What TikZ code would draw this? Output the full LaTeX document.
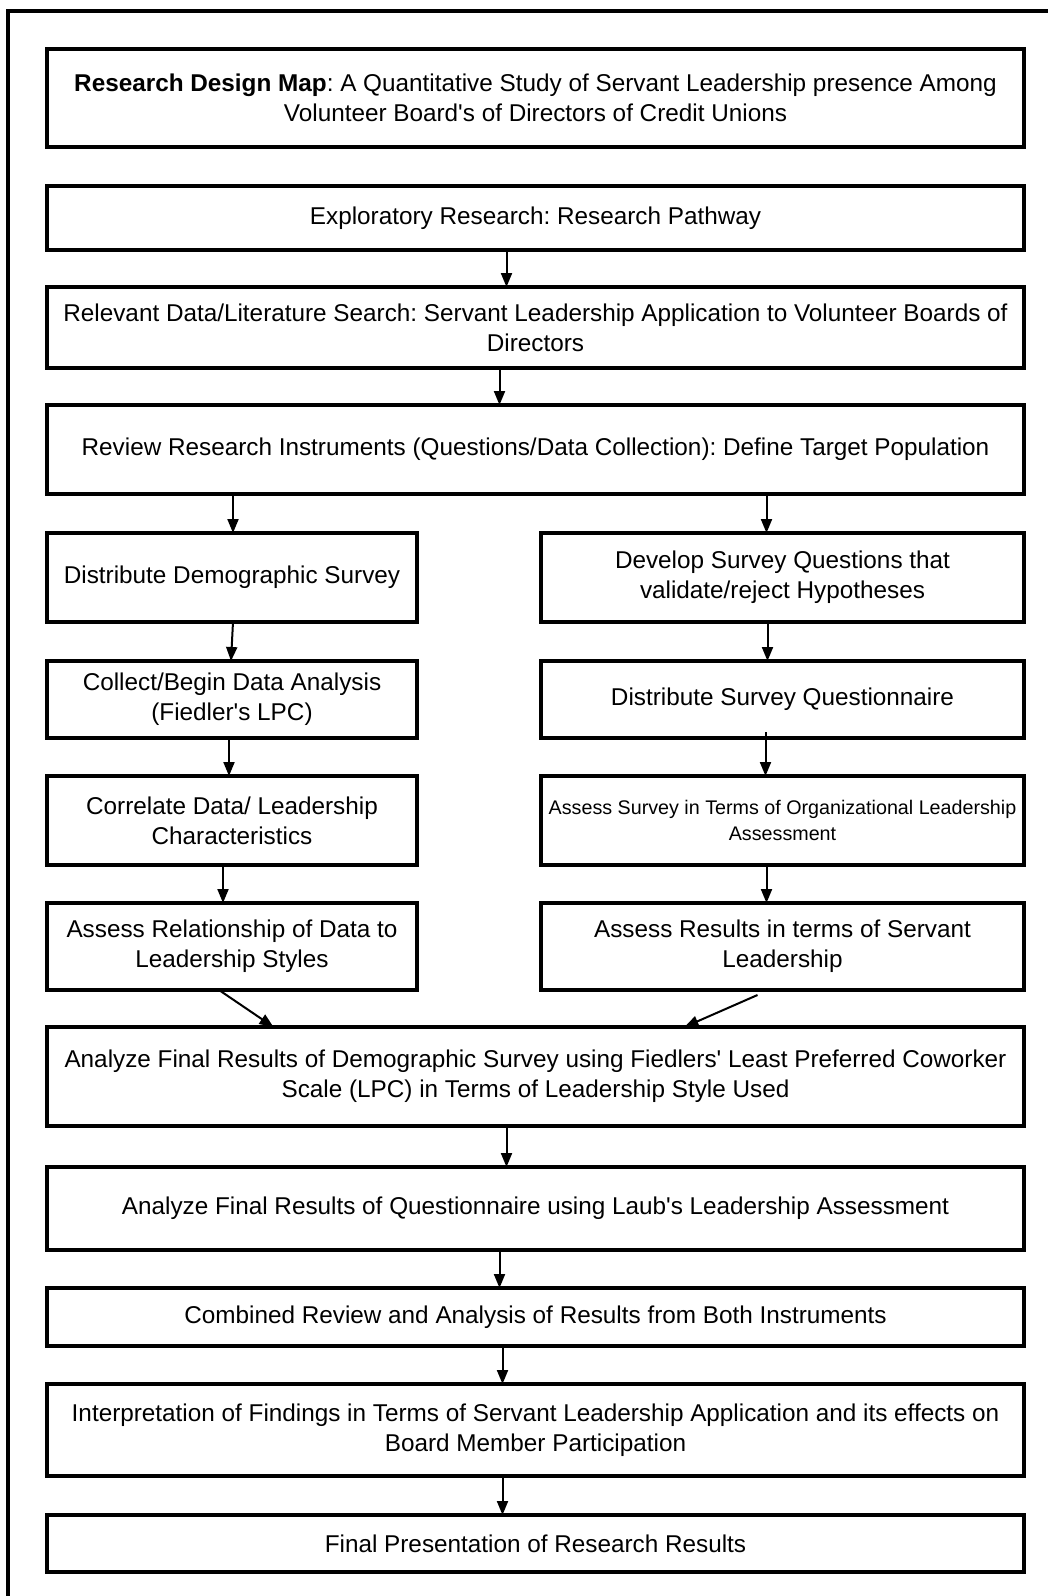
\documentclass[tikz,border=0pt]{standalone}
\usepackage{fontspec}
\newfontfamily\flowfont{Liberation Sans}
\usetikzlibrary{positioning,arrows.meta}
\frenchspacing

\begin{document}
\begin{tikzpicture}[x=1pt, y=1pt,
  every node/.style={draw, line width=4pt, outer sep=0pt, inner sep=6pt, align=center,
    font=\flowfont\fontsize{24.3}{30}\selectfont},
  wide/.style={minimum width=977pt},
  half/.style={minimum width=370pt},
  halfr/.style={minimum width=483pt},
  flow/.style={draw, line width=2pt, -{Triangle[width=11pt,length=14pt]}}]
  \useasboundingbox (0,0) rectangle (1048,-1596);
  \draw[line width=4pt] (8,-1600) -- (8,-11) -- (1052,-11);
  % main column
  \node[wide, minimum height=98pt, anchor=north west] (title) at (47,-49)
    {\textbf{Research Design Map}: A Quantitative Study of Servant Leadership presence Among\\ Volunteer Board's of Directors of Credit Unions};
  \node[wide, minimum height=64pt, below=39pt of title] (explore) {Exploratory Research: Research Pathway};
  \node[wide, minimum height=81pt, below=37pt of explore] (search)
    {Relevant Data/Literature Search: Servant Leadership Application to Volunteer Boards of\\ Directors};
  \node[wide, minimum height=89pt, below=37pt of search] (review)
    {Review Research Instruments (Questions/Data Collection): Define Target Population};
  % left branch
  \node[half, minimum height=89pt, below=39pt of review.south west, anchor=north west] (demo) {Distribute Demographic Survey};
  \node[half, minimum height=77pt, below=39pt of demo] (collect) {Collect/Begin Data Analysis\\ (Fiedler's LPC)};
  \node[half, minimum height=89pt, below=38pt of collect] (correl) {Correlate Data/ Leadership\\ Characteristics};
  \node[half, minimum height=87pt, below=38pt of correl] (relat) {Assess Relationship of Data to\\ Leadership Styles};
  % right branch
  \node[halfr, minimum height=89pt, below=39pt of review.south east, anchor=north east] (develop)
    {Develop Survey Questions that\\ validate/reject Hypotheses};
  \node[halfr, minimum height=77pt, below=39pt of develop] (quest) {Distribute Survey Questionnaire};
  \node[halfr, minimum height=89pt, below=38pt of quest, font=\flowfont\fontsize{19.7}{26.5}\selectfont] (orgassess)
    {Assess Survey in Terms of Organizational Leadership\\ Assessment};
  \node[halfr, minimum height=87pt, below=38pt of orgassess] (servres) {Assess Results in terms of Servant\\ Leadership};
  % merged column
  \node[wide, minimum height=99pt, below=37pt of relat.south west, anchor=north west] (lpcres)
    {Analyze Final Results of Demographic Survey using Fiedlers' Least Preferred Coworker\\ Scale (LPC) in Terms of Leadership Style Used};
  \node[wide, minimum height=83pt, below=41pt of lpcres] (laubres)
    {Analyze Final Results of Questionnaire using Laub's Leadership Assessment};
  \node[wide, minimum height=58pt, below=38pt of laubres] (combined)
    {Combined Review and Analysis of Results from Both Instruments};
  \node[wide, minimum height=92pt, below=38pt of combined] (interp)
    {Interpretation of Findings in Terms of Servant Leadership Application and its effects on\\ Board Member Participation};
  \node[wide, minimum height=57pt, below=39pt of interp] (present) {Final Presentation of Research Results};
  % connectors
  \draw[flow] ([xshift=-29pt]explore.south) -- ([xshift=-29pt]search.north);
  \draw[flow] ([xshift=-36pt]search.south) -- ([xshift=-36pt]review.north);
  \draw[flow] ([xshift=1pt]demo.north |- review.south) -- ([xshift=1pt]demo.north);
  \draw[flow] ([xshift=-16pt]develop.north |- review.south) -- ([xshift=-16pt]develop.north);
  \draw[flow] ([xshift=1pt]demo.south) -- ([xshift=-1pt]collect.north);
  \draw[flow] ([xshift=-15pt]develop.south) -- ([xshift=-15pt]quest.north);
  \draw[flow] ([xshift=-3pt]collect.south) -- ([xshift=-3pt]correl.north);
  \draw[flow] ([xshift=-17pt,yshift=6pt]quest.south) -- ([xshift=-17pt]orgassess.north);
  \draw[flow] ([xshift=-9pt]correl.south) -- ([xshift=-9pt]relat.north);
  \draw[flow] ([xshift=-16pt]orgassess.south) -- ([xshift=-16pt]servres.north);
  \draw[flow] ([xshift=-13pt]relat.south) -- ([xshift=-262pt]lpcres.north);
  \draw[flow] ([xshift=-25pt,yshift=-5pt]servres.south) -- ([xshift=149pt]lpcres.north);
  \draw[flow] ([xshift=-29pt]lpcres.south) -- ([xshift=-29pt]laubres.north);
  \draw[flow] ([xshift=-36pt]laubres.south) -- ([xshift=-36pt]combined.north);
  \draw[flow] ([xshift=-33pt]combined.south) -- ([xshift=-33pt]interp.north);
  \draw[flow] ([xshift=-33pt]interp.south) -- ([xshift=-33pt]present.north);
\end{tikzpicture}
\end{document}
